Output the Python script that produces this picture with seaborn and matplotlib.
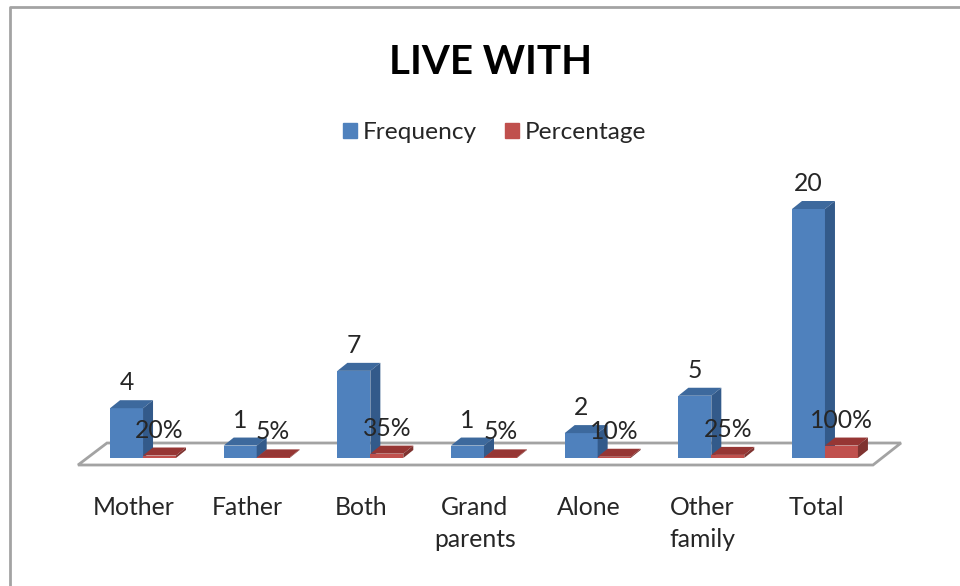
import pandas as pd
import seaborn as sns
import matplotlib.pyplot as plt
from matplotlib.patches import Polygon
from matplotlib.lines import Line2D
from matplotlib.transforms import ScaledTranslation

categories = ['Mother', 'Father', 'Both', 'Grand\nparents', 'Alone', 'Other\nfamily', 'Total']
frequency = [4, 1, 7, 1, 2, 5, 20]
percentage = [0.20, 0.05, 0.35, 0.05, 0.10, 0.25, 1.00]
freq_labels = ['4', '1', '7', '1', '2', '5', '20']
perc_labels = ['20%', '5%', '35%', '5%', '10%', '25%', '100%']

W, H = 960, 586
GRAY = '#a3a3a3'
TEXT = '#262626'

sns.set_theme(style='white')
plt.rcParams['font.family'] = ['Lato', 'DejaVu Sans']


def px(x, y):
    return (x / W, 1 - y / H)


df = pd.DataFrame({
    'cat': categories * 2,
    'value': frequency + percentage,
    'series': ['Frequency'] * 7 + ['Percentage'] * 7,
})

fig = plt.figure(figsize=(W / 100, H / 100), dpi=100, facecolor='white')
ax = fig.add_axes([86.2 / W, 1 - 458 / H, (881.8 - 86.2) / W, 300 / H])
ax.patch.set_alpha(0)

sns.barplot(data=df, x='cat', y='value', hue='series', ax=ax, width=0.58, gap=0,
            palette={'Frequency': '#4f81bd', 'Percentage': '#c0504d'},
            saturation=1, errorbar=None, legend=False, zorder=3)

ax.set_xlim(-0.5, 6.5)
ax.set_ylim(0, 300 / 12.45)
ax.set_xlabel('')
ax.set_ylabel('')
ax.set_yticks([])
ax.tick_params(axis='x', length=0, pad=27.5, labelsize=17.8, labelcolor=TEXT)
sns.despine(ax=ax, left=True, bottom=True)

# shift category labels left like the 3d office chart does
for t in ax.get_xticklabels():
    t.set_transform(t.get_transform() + ScaledTranslation(-9 / 100, 0, fig.dpi_scale_trans))
    t.set_linespacing(1.45)
    t.set_va('top')

# floor
ax.add_patch(Polygon([px(78, 465), px(107, 443), px(901, 443), px(873, 465)],
                     closed=True, transform=fig.transFigure, facecolor='white',
                     edgecolor=GRAY, linewidth=2, zorder=1, clip_on=False))

# depth faces for every bar
dx = 10 * 7 / (881.8 - 86.2)
dy = 8 / 12.45
shades = {0: ('#3d699d', '#335a8a', 3), 1: ('#963634', '#7f3330', 4)}
for i, bars in enumerate(ax.containers):
    top_col, side_col, z = shades[i]
    for bar in bars:
        x0, x1 = bar.get_x(), bar.get_x() + bar.get_width()
        y1 = bar.get_height()
        bar.set_zorder(z)
        bar.set_linewidth(0)
        bar.set_edgecolor('none')
        ax.add_patch(Polygon([(x0, y1), (x0 + dx, y1 + dy), (x1 + dx, y1 + dy), (x1, y1)],
                             facecolor=top_col, edgecolor='none', zorder=z, clip_on=False))
        ax.add_patch(Polygon([(x1, 0), (x1 + dx, dy), (x1 + dx, y1 + dy), (x1, y1)],
                             facecolor=side_col, edgecolor='none', zorder=z, clip_on=False))

for bars, labels in zip(ax.containers, [freq_labels, perc_labels]):
    for txt in ax.bar_label(bars, labels=labels, padding=10, fontsize=17.8, color=TEXT):
        txt.set_zorder(6)

fig.text(491 / W, 1 - 62 / H, 'LIVE WITH', ha='center', va='center', fontsize=29,
         fontweight='bold', color='black')

handles = [plt.Rectangle((0, 0), 1, 1, color='#4f81bd'), plt.Rectangle((0, 0), 1, 1, color='#c0504d')]
fig.legend(handles, ['Frequency', 'Percentage'], ncol=2, frameon=False, fontsize=17.6,
           loc='center', bbox_to_anchor=(495 / W, 1 - 133 / H), labelcolor=TEXT,
           handlelength=0.56, handleheight=0.56, handletextpad=0.25, columnspacing=1.15)

# frame of the pasted picture, only left and top show
fig.add_artist(Line2D([10 / W, 10 / W, 1], [0, 1 - 7 / H, 1 - 7 / H], color=GRAY, linewidth=2))

fig.savefig('out.png', dpi=100)
